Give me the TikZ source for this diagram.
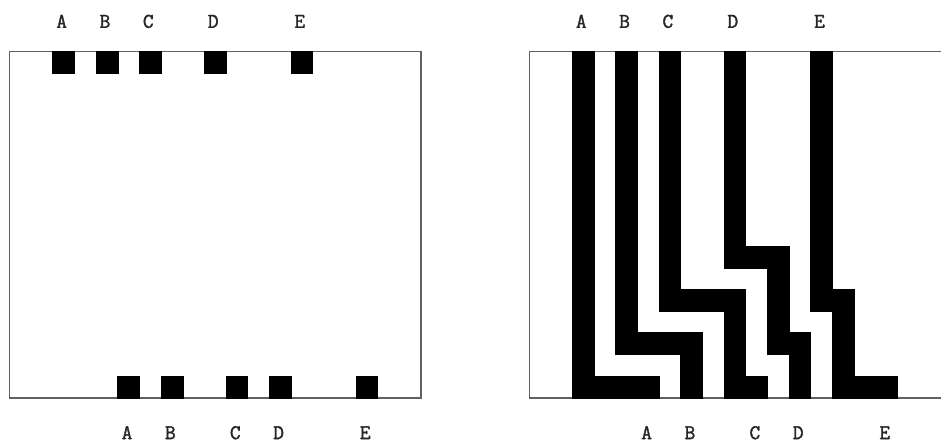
\documentclass[tikz,border=0pt]{standalone}
\usepackage{fontspec}
\newfontfamily\lblfont[FakeBold=1.6]{Latin Modern Mono}
\begin{document}
\begin{tikzpicture}[x=21.65bp,y=21.65bp,
  frame/.style={draw=black!62,line width=1.6bp},
  blk/.style={fill=black,draw=black,line width=1.2bp,line join=miter},
  lbl/.style={font=\lblfont\fontsize{21}{21}\selectfont,anchor=base,inner sep=0pt,text=black!85}]
\useasboundingbox (-2.448,-2.078) rectangle (41.478,18.383);
% ---------- left panel ----------
\draw[frame] (-2,0) rectangle (17,16);
\foreach \x/\n in {0/A,2/B,4/C,7/D,11/E}{
  \fill[blk] (\x,15) rectangle ++(1,1);
  \node[lbl] (tl\n) at (\x+0.4,17.1) {\n};
}
\foreach \x/\n in {3/A,5/B,8/C,10/D,14/E}{
  \fill[blk] (\x,0) rectangle ++(1,1);
  \node[lbl] (bl\n) at (\x+0.42,-1.9) {\n};
}
% ---------- right panel ----------
\begin{scope}[xshift=24*21.65bp]
\draw[frame] (17,16) -- (-2,16) -- (-2,0) -- (17,0);
\filldraw[blk] (0,16) -- (1,16) -- (1,1) -- (4,1) -- (4,0) -- (0,0) -- cycle;
\filldraw[blk] (2,16) -- (3,16) -- (3,3) -- (6,3) -- (6,0) -- (5,0) -- (5,2) -- (2,2) -- cycle;
\filldraw[blk] (4,16) -- (5,16) -- (5,5) -- (8,5) -- (8,1) -- (9,1) -- (9,0) -- (7,0) -- (7,4) -- (4,4) -- cycle;
\filldraw[blk] (7,16) -- (8,16) -- (8,7) -- (10,7) -- (10,3) -- (11,3) -- (11,0) -- (10,0) -- (10,2) -- (9,2) -- (9,6) -- (7,6) -- cycle;
\filldraw[blk] (11,16) -- (12,16) -- (12,5) -- (13,5) -- (13,1) -- (15,1) -- (15,0) -- (12,0) -- (12,4) -- (11,4) -- cycle;
\foreach \x/\n in {0/A,2/B,4/C,7/D,11/E}{
  \node[lbl] (tr\n) at (\x+0.4,17.1) {\n};
}
\foreach \x/\n in {3/A,5/B,8/C,10/D,14/E}{
  \node[lbl] (br\n) at (\x+0.42,-1.9) {\n};
}
\end{scope}
\end{tikzpicture}
\end{document}
